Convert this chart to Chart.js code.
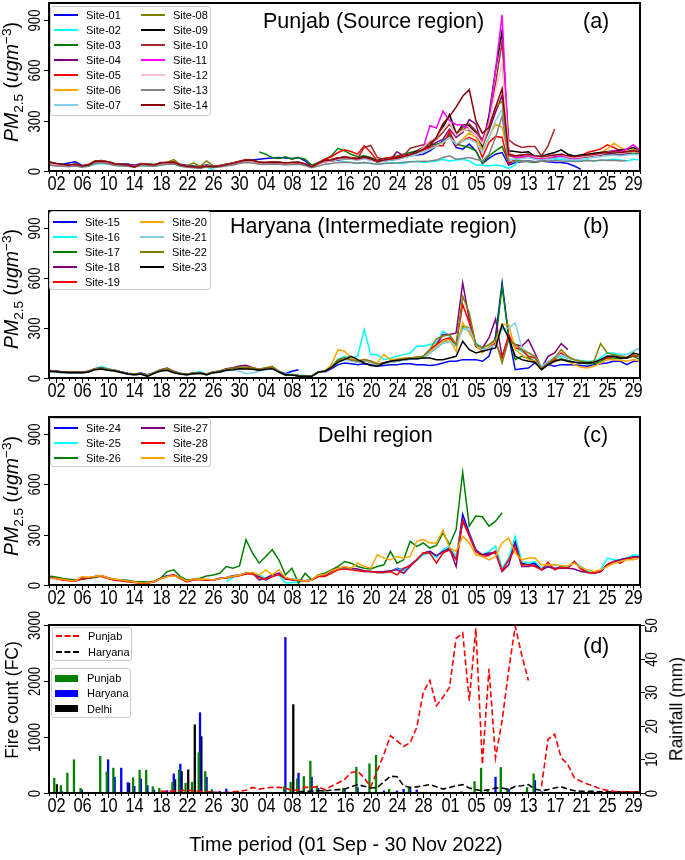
<!DOCTYPE html>
<html>
<head>
<meta charset="utf-8">
<script src="https://cdn.jsdelivr.net/npm/chart.js@4.4.0/dist/chart.umd.min.js"></script>
<style>
  html, body { margin: 0; padding: 0; background: #fff; }
  #wrap { position: relative; width: 685px; height: 860px; overflow: hidden; font-family: "Liberation Sans", Arial, sans-serif; color: #000; }
  #wrap canvas { position: absolute; left: 0; top: 0; }
  .txt { position: absolute; white-space: nowrap; line-height: 1; }
  .legend { position: absolute; border: 1px solid #cccccc; border-radius: 3px; background: rgba(255,255,255,0.85); box-sizing: border-box; }
  .legend span { position: absolute; font-size: 11px; line-height: 1; transform: translateY(-50%); white-space: nowrap; }
  .legend i { position: absolute; display: block; }
</style>
</head>
<body>
<div id="wrap">
  <canvas id="chartA" width="685" height="860"></canvas>
  <canvas id="chartB" width="685" height="860"></canvas>
  <canvas id="chartC" width="685" height="860"></canvas>
  <canvas id="chartD" width="685" height="860"></canvas>
</div>
<script>
// ---- data: days 01 Sep .. 30 Nov 2022 ----
const monthNames = ['Sep', 'Oct', 'Nov'];
const monthLengths = [30, 31, 30];

const pmTicks = [0, 300, 600, 900];
const fireTicks = [0, 1000, 2000, 3000];
const rainTicks = [0, 10, 20, 30, 40, 50];

// Punjab (source region), PM2.5 ugm-3
const site01 = [50,45,40,48,55,35,30,45,50,55, 45,40,42,35,45,40,38,45,50,52, 40,35,30,28,35,30,32,40,48,55,
  62,65,70,75,78,80,78,75,80,60, 30,45,55,60,65,70,72,68,75,65, 55,60,65,70,80,90,95,100,120,150,
  180,210,140,130,160,120,45,75,100,110, 35,50,55,60,55,60,55,50,50,45, 30,10,null,null,null,null,null,null,null,null,null];
const site02 = [40,35,30,28,30,25,28,40,45,42, 35,30,28,25,32,30,28,35,40,42, 30,25,22,20,25,5,null,null,null,null,
  null,null,null,null,null,null,null,null,null,null, null,null,null,null,50,55,50,45,50,45, 40,45,50,48,45,55,58,50,55,60,
  70,60,65,70,60,36,36,30,36,30, 16,36,85,90,88,80,75,70,70,65, 60,62,65,60,62,66,70,65,60,70,65];
const site03 = [55,45,40,35,40,30,35,60,60,55, 45,40,38,32,42,40,38,48,50,55, 38,30,28,25,32,28,32,40,45,55,
  null,null,114,100,80,75,85,70,80,70, 35,50,70,90,135,120,100,85,90,80, 65,75,80,90,100,110,120,140,150,160,
  170,220,160,150,140,120,46,90,120,146, 50,60,60,55,50,60,70,80,85,90, 85,90,95,100,95,100,105,110,100,105,100];
const site04 = [48,42,38,35,36,30,35,55,56,50, 40,36,35,30,40,36,34,44,46,48, 34,28,25,22,28,24,30,38,44,52,
  60,58,50,46,50,48,44,46,48,38, 22,44,58,62,70,75,70,68,75,68, 55,62,68,115,90,95,110,130,150,170,
  190,250,200,230,306,280,150,240,350,450, 110,90,95,100,85,80,85,90,95,80, 75,80,85,90,95,105,100,95,105,120,110];
const site05 = [55,45,38,35,40,30,38,60,62,55, 42,40,36,32,42,40,36,50,52,55, 36,30,26,24,32,26,32,40,48,58,
  68,62,52,50,55,52,48,50,52,42, 26,48,70,85,110,126,116,100,150,110, 60,75,80,85,95,100,110,120,140,150,
  150,236,150,180,200,180,80,170,206,200, 40,70,80,85,75,70,80,90,100,85, 80,90,110,120,130,156,140,120,110,120,105];
const site06 = [40,36,32,30,34,26,32,50,54,48, 38,35,32,28,38,35,32,42,45,48, 32,26,24,20,28,22,28,35,42,52,
  60,56,48,45,50,48,42,45,48,38, 24,42,56,60,70,75,72,68,75,68, 54,62,68,72,80,90,100,115,130,150,
  170,200,160,190,226,200,120,200,280,260, 90,80,85,90,80,75,80,90,95,80, 75,80,90,100,110,130,166,140,120,130,120];
const site07 = [42,38,34,30,35,27,33,52,55,50, 38,36,34,30,42,38,34,44,46,48, 33,28,24,22,29,24,29,36,44,52,
  62,58,52,50,55,52,48,52,54,44, 26,44,58,62,70,75,70,66,72,66, 52,60,66,70,80,88,100,115,130,150,
  170,200,160,180,190,170,110,200,300,366, 70,70,75,80,70,65,70,75,80,70, 65,70,75,80,85,90,95,90,95,100,95];
const site08 = [50,42,36,33,38,30,36,58,60,54, 42,38,36,30,42,38,36,48,52,68, 38,30,48,28,60,30,32,40,46,56,
  66,62,52,50,54,52,46,50,52,42, 26,46,62,66,76,82,76,72,85,72, 56,66,72,78,88,98,115,135,160,200,
  280,330,230,250,240,220,140,260,380,416, 90,85,90,95,85,80,85,90,95,80, 75,80,85,95,100,110,120,110,115,125,115];
const site09 = [46,41,36,33,38,29,35,56,58,52, 40,38,35,30,40,38,35,46,48,50, 35,28,25,22,30,25,30,38,45,55,
  66,62,52,48,52,50,46,48,50,40, 25,46,62,68,78,84,78,74,84,74, 58,68,74,80,90,100,118,140,170,200,
  260,336,216,276,270,230,150,330,600,835, 120,116,110,115,86,90,100,110,126,100, 90,95,100,105,110,115,120,125,130,140,125];
const site10 = [48,43,37,34,40,30,36,56,58,52, 40,38,35,30,40,38,35,46,48,50, 35,28,25,15,30,25,30,38,45,55,
  64,60,52,48,52,50,45,48,50,40, 25,46,62,68,78,84,80,75,140,152, 80,70,75,80,90,136,146,156,166,190,
  230,280,220,260,280,240,186,300,520,770, 186,156,140,146,146,90,150,250,null,null, null,null,null,null,null,null,null,null,null,null,null];
const site11 = [44,39,34,31,37,28,34,54,57,51, 39,37,34,29,39,37,34,44,47,49, 34,27,24,21,29,24,29,37,44,54,
  64,59,50,47,51,49,44,47,49,39, 24,44,60,64,74,80,74,70,80,70, 55,65,70,75,85,95,110,140,270,256,
  356,300,276,276,250,220,170,300,600,930, 100,80,85,90,80,75,80,85,90,80, 75,80,90,95,100,110,120,115,130,156,120];
const site12 = [45,40,36,32,38,28,35,55,58,52, 40,38,35,20,40,38,35,45,48,50, 35,28,25,22,30,25,30,38,45,55,
  64,60,50,48,52,50,45,48,50,40, 25,45,60,65,75,80,75,70,80,70, 55,65,70,75,85,95,110,140,180,200,
  250,290,210,240,250,220,160,280,480,640, 110,90,95,100,85,80,85,95,100,85, 80,85,90,95,100,110,115,105,110,120,110];
const site13 = [35,30,28,25,30,22,28,45,48,42, 32,30,28,24,32,30,28,36,40,42, 28,22,20,18,24,20,24,30,36,44,
  50,48,40,38,42,40,36,38,40,32, 20,30,40,45,50,52,50,46,50,46, 40,45,46,48,52,55,56,58,60,65,
  80,90,70,75,80,70,60,100,200,326, 60,55,58,60,55,58,60,62,60,58, 56,58,62,60,65,62,64,60,62,null,null];
const site14 = [52,44,38,34,40,30,36,56,60,54, 42,40,36,22,42,40,36,48,50,52, 36,28,26,22,30,26,30,38,46,56,
  66,62,52,50,54,52,48,50,52,42, 26,46,62,66,76,82,76,72,82,72, 56,66,72,76,86,96,110,130,150,200,
  280,325,380,445,485,300,225,260,380,490, 100,90,95,100,90,85,90,95,100,90, 85,90,95,100,105,110,115,110,115,120,115];

// Haryana (intermediate region)
const site15 = [45,42,38,35,38,34,40,56,60,52, 46,36,28,24,30,20,32,46,50,38, 28,22,30,32,22,34,36,48,52,60,
  62,55,48,55,58,40,25,40,50,null, null,null,35,55,80,90,85,80,85,80, 70,75,80,80,85,85,80,80,75,80,
  90,100,100,110,110,110,100,130,250,570, 250,50,56,60,90,60,80,70,80,80, 80,75,70,80,85,90,100,100,80,100,100];
const site16 = [38,36,32,30,33,31,36,55,70,55, 46,35,26,22,26,18,30,45,52,40, 28,22,30,40,22,36,40,52,56,62,
  60,55,50,56,60,40,22,22,18,15, 12,38,42,70,110,130,120,130,290,140, 140,110,120,130,140,150,190,190,200,210,
  280,250,200,300,280,210,180,200,230,300, 260,180,160,130,120,60,100,120,130,120, 110,105,100,100,120,150,150,140,140,160,180];
const site17 = [42,40,36,33,36,33,38,54,58,50, 44,34,25,20,24,15,30,44,48,34, 24,20,26,28,18,32,36,48,52,62,
  62,56,48,55,60,36,18,18,14,10, 10,34,40,62,110,120,105,95,105,95, 78,85,95,100,108,112,115,120,150,180,
  210,220,190,310,300,190,160,180,210,550, 250,110,130,120,100,50,85,105,115,105, 95,90,85,85,100,120,120,115,120,130,110];
const site18 = [44,40,36,34,36,34,40,56,62,52, 46,36,26,22,26,16,32,50,60,40, 26,22,30,32,22,36,42,55,62,72,
  76,62,52,60,64,38,20,20,15,12, 10,36,42,66,100,118,110,100,110,100, 82,92,100,110,115,120,125,130,170,200,
  260,260,270,570,350,200,180,240,354,130, 240,200,190,230,150,60,130,150,206,170, null,null,null,null,null,null,null,null,null,null,null];
const site19 = [40,38,34,32,34,32,38,54,58,50, 44,34,24,20,24,15,30,45,50,36, 24,20,28,30,20,34,38,50,54,62,
  64,58,50,56,60,38,20,20,15,12, 10,35,40,64,100,115,105,95,105,95, 80,88,98,105,110,115,120,125,160,200,
  230,240,200,440,330,190,170,180,210,120, 260,180,170,130,120,60,90,110,150,120, 110,100,95,95,110,120,130,125,120,135,125];
const site20 = [38,36,32,30,33,31,36,52,56,48, 42,33,24,19,24,14,30,44,48,34, 24,19,27,29,19,33,36,48,52,60,
  62,56,48,54,58,36,18,18,14,10, 10,34,40,80,170,160,120,100,110,100, 90,140,110,115,120,120,125,125,160,190,
  220,230,160,330,270,200,150,190,220,320, 320,170,140,110,100,50,80,100,110,100, 80,65,60,70,90,110,110,105,100,110,100];
const site21 = [36,34,30,28,31,29,34,50,54,46, 40,32,22,18,22,14,28,42,46,32, 22,18,26,28,18,30,34,44,48,40,
  26,30,40,50,55,36,18,18,14,10, 10,32,38,60,95,110,100,95,105,95, 78,85,95,100,108,112,115,120,150,180,
  210,220,190,290,300,200,170,180,200,290, 300,330,180,150,130,70,100,120,140,120, 110,100,95,100,110,130,140,135,140,160,180];
const site22 = [42,40,36,34,36,33,38,56,60,52, 46,36,26,22,26,16,32,48,58,38, 26,22,30,32,22,36,40,52,58,64,
  66,60,52,62,70,40,20,20,15,12, 10,36,42,66,105,120,110,100,110,100, 82,90,100,110,115,120,125,130,170,234,
  250,260,200,490,390,200,180,200,230,90, 230,200,170,150,130,55,90,120,170,130, 110,100,95,100,206,150,140,130,125,140,130];
const site23 = [40,38,34,32,33,31,36,50,54,46, 42,33,24,20,24,10,28,42,46,32, 24,20,26,28,20,32,36,46,50,56,
  54,52,46,52,56,36,18,18,10,10, 10,34,40,62,95,110,130,110,90,75, 70,90,100,105,110,115,115,120,120,110,
  110,120,130,220,170,150,160,170,180,320, 240,130,110,100,95,50,80,100,110,100, 95,90,90,95,110,130,130,120,120,150,140];

// Delhi region
const site24 = [44,40,34,30,24,40,42,48,55,42, 32,30,25,20,10,14,20,40,55,60, 40,22,34,34,32,30,40,45,55,60,
  70,72,50,30,50,70,40,35,30,25, 30,55,60,85,100,100,95,90,80,80, 75,75,80,100,90,120,150,190,200,170,
  200,220,150,420,310,210,180,180,200,90, 150,260,130,120,130,90,110,95,110,105, 140,100,80,70,80,120,140,150,160,170,165];
const site25 = [null,null,null,null,null,null,null,null,null,null, null,null,null,null,null,null,null,null,null,null, null,null,null,null,null,null,null,20,45,60,
  70,70,60,40,55,60,14,14,20,25, 30,50,60,80,100,100,95,90,80,80, 75,75,80,95,85,115,145,180,190,165,
  210,230,170,380,300,200,180,200,230,100, 160,290,140,130,140,100,120,120,115,110, 140,110,85,75,90,160,150,150,160,180,175];
const site26 = [54,48,40,35,30,32,40,45,55,42, 35,30,28,20,20,18,22,40,80,90, 50,30,35,40,54,60,70,110,100,114,
  270,190,130,170,210,150,60,100,10,70, 30,60,70,90,110,140,130,110,100,95, 110,120,200,130,150,260,230,250,220,235,
  310,240,330,670,350,410,406,350,380,430, null,null,null,null,null,null,null,null,null,null, null,null,null,null,null,null,null,null,null,null,null];
const site27 = [40,38,32,28,26,38,40,50,56,40, 30,28,22,18,12,14,20,38,52,58, 38,20,32,32,30,28,38,42,50,58,
  70,70,30,40,60,70,35,30,28,24, 30,52,58,82,100,105,100,95,85,80, 78,80,85,90,70,110,150,190,200,175,
  200,215,110,390,300,200,180,190,190,80, 120,250,110,110,120,90,110,100,100,100, 95,80,75,70,85,120,140,150,160,165,165];
const site28 = [42,38,30,26,22,38,42,50,50,38, 28,24,20,15,10,12,18,38,50,60, 40,20,30,32,30,28,38,42,50,55,
  65,66,45,35,50,62,38,32,28,24, 28,50,50,70,90,95,90,85,80,80, 75,75,80,60,100,115,150,190,190,130,
  190,210,150,380,290,200,170,175,200,85, 150,220,120,120,110,90,136,90,105,100, 140,95,75,70,80,120,140,130,155,165,160];
const site29 = [40,38,34,28,24,50,46,50,56,42, 34,30,24,18,12,14,20,38,50,55, 42,24,34,36,34,30,38,44,52,58,
  72,75,60,90,60,90,45,35,30,22, 30,58,62,85,100,110,100,130,110,100, 180,160,150,170,160,170,260,270,250,250,
  326,220,200,290,250,180,170,150,170,250, 280,190,150,160,160,120,120,120,115,115, 130,105,90,80,90,110,130,140,150,150,160];

// (d) fire counts (FC) and rainfall (mm)
const punjabFire = [null,null,null,null,null,null,null,null,null,null, null,null,null,null,null,null,null,30,30,40,
  40,50,40,30,20,20,10,10,20,30, 50,100,70,90,100,100,90,40,60,100, 100,110,60,120,180,240,360,390,270,110,
  400,690,1020,930,830,900,1170,1800,2010,1560, 1710,1890,2760,2860,1650,2940,510,2220,630,1290,
  2190,2980,2460,2010,null,120,960,1050,630,510, 270,210,160,120,70,50,30,20,20,20,20];
const haryanaFire = [null,null,null,null,null,null,null,null,null,null, null,null,null,null,null,null,null,null,null,null,
  null,null,null,null,null,null,null,null,null,null, null,null,null,null,null,null,null,null,20,30,
  30,40,40,50,60,70,110,150,120,90, 100,200,300,290,130,100,110,130,150,110,
  70,100,130,150,90,60,40,60,90,90, 60,120,130,150,70,40,60,90,110,70, 40,30,30,30,20,20,20,20,20,20,20];
const punjabRain = [0,4.5,2.3,6,10,1.5,0,0,11,6.4, 7.5,0,0,4.6,6.9,6.9,2,1.5,0,3.3, 6.9,3,3.3,12.1,6.5,1.1,0,0,0,0.6,
  0,0,0,0,0,0,2,3.3,4.3,5, 9.6,2.2,1,0,0,1.5,0,7.8,0,8.8, 11.3,0,1.2,0,0,1.5,0,0,0,0,
  0,0,0,0.5,0,3.5,7.5,1,0,7.7, 1.5,0,0,1.7,5.8,0,0,0,0,0, 0,0,0,0,0,0,0,0,0,0,0];
const haryanaRain = [0,0,0.5,0,0,1,0,0,0,10, 4.8,7.5,3.2,2.1,4.3,2.3,1,0,0.8,5.8, 8.7,0,0,24,4.8,0.5,0.6,1.3,0,0,
  0,0,0,0,0,0,46.4,0,6,0, 4.8,1.5,0,0,0,1.3,0,1.7,0,0, 0,0.7,0,0.7,1.2,1.5,1,0,0,0,
  0,0,0,0,0,0,0,0,4.8,0, 1.2,0,0,0,3.8,0.5,0,0,0,0, 0,0,0,0,0,0,0,0,0,0,0];
const delhiRain = [0,2.6,0,0,0,0,0,0,0,0, 0,0,3,0,0,0,0,0,0,4.1, 6.5,7,20.4,16.9,0,0,0,0,0,0,
  0,0,0,0,0,0,0,26.4,0,0, 0,0,0,0,0,0,0,0,0,0, 0,0,0,0,0,0,0,0,0,0,
  0,0,0,0,0,0,0,0,0,0, 0,0,0,0,0,0,0,0,0,0, 0,0,0,0,0,0,0,0,0,0,0];

const punjabNames = ['Site-01','Site-02','Site-03','Site-04','Site-05','Site-06','Site-07','Site-08','Site-09','Site-10','Site-11','Site-12','Site-13','Site-14'];
const haryanaNames = ['Site-15','Site-16','Site-17','Site-18','Site-19','Site-20','Site-21','Site-22','Site-23'];
const delhiNames = ['Site-24','Site-25','Site-26','Site-27','Site-28','Site-29'];
const fireNames = ['Punjab', 'Haryana'];
const rainNames = ['Punjab', 'Haryana', 'Delhi'];

// ---- styles ----
const punjabColors = ['#0000ff','#00ffff','#008000','#800080','#ff0000','#ffa500','#87ceeb','#808000','#000000','#a52a2a','#ff00ff','#ffc0cb','#808080','#8b0000'];
const haryanaColors = ['#0000ff','#00ffff','#008000','#800080','#ff0000','#ffa500','#87ceeb','#808000','#000000'];
const delhiColors = ['#0000ff','#00ffff','#008000','#800080','#ff0000','#ffa500'];

const dayLabels = [];
monthNames.forEach((m, k) => {
  for (let d = 1; d <= monthLengths[k]; d++) dayLabels.push(m + ' ' + String(d).padStart(2, '0'));
});

const allSeries = {site01, site02, site03, site04, site05, site06, site07, site08, site09, site10, site11, site12, site13, site14,
  site15, site16, site17, site18, site19, site20, site21, site22, site23, site24, site25, site26, site27, site28, site29,
  punjabFire, haryanaFire, punjabRain, haryanaRain, delhiRain};
Object.keys(allSeries).forEach(k => {
  if (allSeries[k].length !== dayLabels.length) throw new Error(k + ' has ' + allSeries[k].length + ' values');
});

const PLOT_LEFT = 49, PLOT_RIGHT = 640;
const NARROW = 0.82;
const XTICK_FONT = '20px "Liberation Sans", Arial, sans-serif';
const YTICK_FONT = '16px "Liberation Sans", Arial, sans-serif';

function narrowText(ctx, text, x, y, rotated) {
  ctx.save();
  ctx.translate(x, y);
  if (rotated) ctx.rotate(-Math.PI / 2);
  ctx.scale(NARROW, 1);
  ctx.fillText(text, 0, 0);
  ctx.restore();
}

// frame, tick marks and tick labels, drawn from the chart's own scales
const axesBox = {
  id: 'axesBox',
  afterDraw(chart, args, opts) {
    const ctx = chart.ctx, area = chart.chartArea, xs = chart.scales.x;
    ctx.save();
    ctx.strokeStyle = '#000';
    ctx.fillStyle = '#000';
    ctx.textAlign = 'center';
    ctx.textBaseline = 'middle';
    ctx.lineWidth = 1;
    ctx.font = XTICK_FONT;
    chart.data.labels.forEach((lab, i) => {
      const px = Math.round(xs.getPixelForValue(i)) + 0.5;
      const major = (i - 1) % 4 === 0;
      ctx.beginPath();
      ctx.moveTo(px, area.bottom);
      ctx.lineTo(px, area.bottom + (major ? 5 : 3));
      ctx.stroke();
      if (major) narrowText(ctx, lab.split(' ')[1], px, area.bottom + 13.5, false);
    });
    ctx.font = YTICK_FONT;
    (opts.axes || []).forEach(ax => {
      const sc = chart.scales[ax.id];
      const side = ax.right ? area.right : area.left;
      const dir = ax.right ? 1 : -1;
      ax.ticks.forEach(v => {
        const py = Math.round(sc.getPixelForValue(v)) + 0.5;
        ctx.beginPath();
        ctx.moveTo(side, py);
        ctx.lineTo(side + dir * 5, py);
        ctx.stroke();
        narrowText(ctx, String(v), side + dir * 13, py, true);
      });
    });
    ctx.lineWidth = 2;
    ctx.strokeRect(area.left, area.top, area.width, area.height);
    ctx.restore();
  }
};

function baseOptions(top, bottom) {
  return {
    responsive: false,
    animation: false,
    devicePixelRatio: 1,
    layout: { padding: { left: PLOT_LEFT, right: 685 - PLOT_RIGHT, top: top, bottom: 860 - bottom } },
    plugins: { legend: { display: false }, tooltip: { enabled: false } }
  };
}

function pmChart(id, series, names, colors, top, bottom) {
  const options = baseOptions(top, bottom);
  options.scales = {
    x: { type: 'category', offset: false, display: false },
    y: { min: 0, max: 1000, display: false }
  };
  options.plugins.axesBox = { axes: [{ id: 'y', ticks: pmTicks }] };
  return new Chart(document.getElementById(id), {
    type: 'line',
    data: {
      labels: dayLabels,
      datasets: series.map((s, k) => ({
        label: names[k], data: s, borderColor: colors[k], backgroundColor: colors[k],
        borderWidth: 1.5, pointRadius: 0, tension: 0, spanGaps: false, fill: false, order: -k
      }))
    },
    options: options,
    plugins: [axesBox]
  });
}

pmChart('chartA', [site01, site02, site03, site04, site05, site06, site07, site08, site09, site10, site11, site12, site13, site14],
  punjabNames, punjabColors, 3, 171);
pmChart('chartB', [site15, site16, site17, site18, site19, site20, site21, site22, site23],
  haryanaNames, haryanaColors, 211, 378);
pmChart('chartC', [site24, site25, site26, site27, site28, site29],
  delhiNames, delhiColors, 417, 585);

(function () {
  const options = baseOptions(625, 793);
  options.scales = {
    x: { type: 'category', offset: false, display: false, grid: { offset: false } },
    y: { min: 0, max: 3000, display: false },
    y1: { min: 0, max: 50, display: false, position: 'right' }
  };
  options.plugins.axesBox = { axes: [{ id: 'y', ticks: fireTicks }, { id: 'y1', ticks: rainTicks, right: true }] };
  const barStyle = { yAxisID: 'y1', order: 1, categoryPercentage: 0.6, barPercentage: 1.75, borderWidth: 0 };
  new Chart(document.getElementById('chartD'), {
    type: 'bar',
    data: {
      labels: dayLabels,
      datasets: [
        { type: 'line', label: fireNames[0], data: punjabFire, borderColor: '#ff0000', borderDash: [6, 3], borderWidth: 1.6, pointRadius: 0, yAxisID: 'y', order: 0 },
        { type: 'line', label: fireNames[1], data: haryanaFire, borderColor: '#000000', borderDash: [6, 3], borderWidth: 1.6, pointRadius: 0, yAxisID: 'y', order: 0 },
        Object.assign({ label: rainNames[0], data: punjabRain, backgroundColor: '#008000' }, barStyle),
        Object.assign({ label: rainNames[1], data: haryanaRain, backgroundColor: '#0000ff' }, barStyle),
        Object.assign({ label: rainNames[2], data: delhiRain, backgroundColor: '#000000' }, barStyle)
      ]
    },
    options: options,
    plugins: [axesBox]
  });
})();

// ---- text: titles, axis titles, legends ----
const wrap = document.getElementById('wrap');
function put(html, x, y, css, anchor) {
  const d = document.createElement('div');
  d.className = 'txt';
  d.innerHTML = html;
  d.style.left = x + 'px';
  d.style.top = y + 'px';
  d.style.cssText += css || '';
  d.style.transform = anchor || 'translate(0,-50%)';
  wrap.appendChild(d);
  return d;
}
const titleCss = 'font-size:21.5px;';
put('Punjab (Source region)', 263, 22, titleCss);
put('(a)', 583, 22, titleCss);
put('Haryana (Intermediate region)', 230, 227, titleCss);
put('(b)', 583, 227, titleCss);
put('Delhi region', 318, 436, titleCss);
put('(c)', 583, 436, titleCss);
put('(d)', 583, 647, titleCss);

const pmTitle = '<i>PM</i><sub style="font-size:70%;line-height:0">2.5</sub> (<i>ugm</i><sup style="font-size:70%;line-height:0">\u22123</sup>)';
const rot = 'translate(-50%,-50%) rotate(-90deg)';
put(pmTitle, 12, 82, 'font-size:19.5px;', rot);
put(pmTitle, 12, 289, 'font-size:19.5px;', rot);
put(pmTitle, 12, 496, 'font-size:19.5px;', rot);
put('Fire count (FC)', 13, 700, 'font-size:17.5px;', rot);
put('Rainfall (mm)', 677, 709, 'font-size:17.5px;', rot);
put('Time period (01 Sep - 30 Nov 2022)', 346, 845, 'font-size:19.7px;', 'translate(-50%,-50%)');

function legend(left, top, width, height, names, colors, perCol, rowTop, rowStep, kind) {
  const box = document.createElement('div');
  box.className = 'legend';
  box.style.cssText = 'left:' + left + 'px;top:' + top + 'px;width:' + width + 'px;height:' + height + 'px;';
  names.forEach((n, k) => {
    const col = Math.floor(k / perCol), row = k % perCol;
    const y = rowTop + row * rowStep;
    const sx = 3 + col * 87;
    const sample = document.createElement('i');
    if (kind === 'line') {
      sample.style.cssText = 'left:' + sx + 'px;top:' + (y - 1) + 'px;width:24px;height:2px;background:' + colors[k] + ';';
    } else if (kind === 'dash') {
      sample.style.cssText = 'left:' + sx + 'px;top:' + (y - 1) + 'px;width:23px;height:0;border-top:2px dashed ' + colors[k] + ';';
    } else {
      sample.style.cssText = 'left:' + sx + 'px;top:' + (y - 3.5) + 'px;width:23px;height:7px;background:' + colors[k] + ';';
    }
    box.appendChild(sample);
    const t = document.createElement('span');
    t.textContent = n;
    t.style.left = (sx + 32) + 'px';
    t.style.top = y + 'px';
    box.appendChild(t);
  });
  wrap.appendChild(box);
}
legend(50, 6, 161, 110, punjabNames, punjabColors, 7, 8, 15, 'line');
legend(49, 211, 162, 79, haryanaNames, haryanaColors, 5, 9.5, 15.15, 'line');
legend(50, 418, 161, 49, delhiNames, delhiColors, 3, 9, 15.2, 'line');
legend(52, 627, 80, 34, fireNames, ['#ff0000', '#000000'], 2, 8, 15.7, 'dash');
legend(51, 668, 80, 50, rainNames, ['#008000', '#0000ff', '#000000'], 3, 9, 15.3, 'patch');
</script>
</body>
</html>
